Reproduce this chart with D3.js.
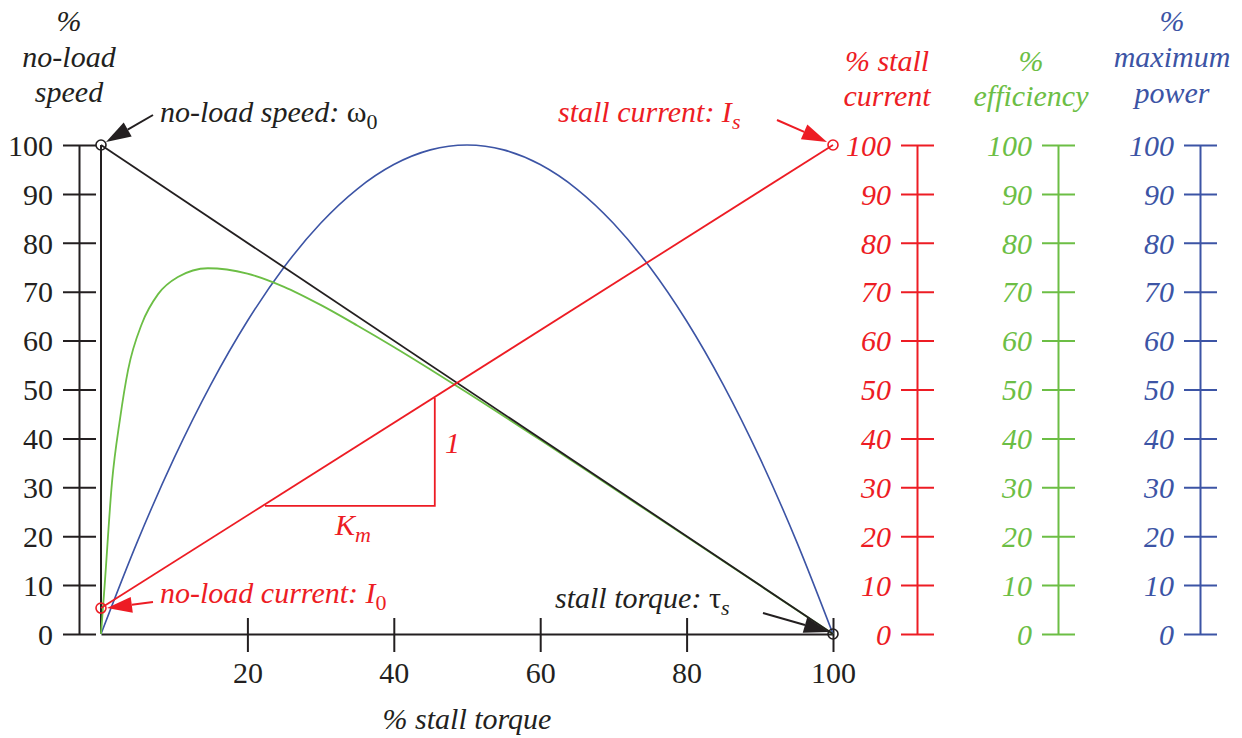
<!DOCTYPE html>
<html><head><meta charset="utf-8">
<script src="https://cdn.jsdelivr.net/npm/d3@7"></script>
<style>
body{margin:0;background:#fff;}
</style></head>
<body><svg id="c" width="1242" height="738" font-family="Liberation Serif"></svg>
<script>
// ---- data ----
const yTicks = [0,10,20,30,40,50,60,70,80,90,100];
const xTicks = [20,40,60,80,100];
const speedLine = [[0,100],[100,0]];            // % no-load speed vs % stall torque
const currentLine = [[0,5.3],[100,100]];        // % stall current
const efficiencyPts = [[0,0],[0.5,10],[1.5,31],[2.6,44],[3.7,54],[5.6,63.5],[7.8,69.5],[10.5,73],[14.6,74.8],[20,73.7],[25,71],[30,67.3],[35,63.1],[40,58.7],[45,54.1],[50,49.4],[60,39.7],[70,29.8],[80,19.9],[90,9.95],[100,0]];
const powerPts = [[0,0],[5,19],[10,36],[15,51],[20,64],[25,75],[30,84],[35,91],[40,96],[45,99],[50,100],[55,99],[60,96],[65,91],[70,84],[75,75],[80,64],[85,51],[90,36],[95,19],[100,0]];
const kmTriangle = [[22.4,26.2],[45.6,26.2],[45.6,48.3]];

const RED="#ed1c24", GREEN="#6cbe45", BLUE="#3c54a5", BLACK="#231f20";
const FS=30;
const FONT="Liberation Serif";

const svg=d3.select("#c");
const x=d3.scaleLinear().domain([0,100]).range([101,833]);
const y=d3.scaleLinear().domain([0,100]).range([634,145]);

function vAxis(xpos,color,italic){
  const g=svg.append("g").attr("transform",`translate(${xpos},0)`)
    .call(d3.axisLeft(y).tickValues(yTicks).tickSize(16).tickSizeOuter(0).tickPadding(10));
  g.attr("font-family",FONT);
  g.select(".domain").attr("stroke",color).attr("stroke-width",2);
  g.selectAll(".tick line").attr("stroke",color).attr("stroke-width",2).attr("x1",17);
  g.selectAll(".tick text").attr("fill",color).attr("font-size",FS)
    .attr("font-style",italic?"italic":"normal").attr("dy","0.34em");
  return g;
}
vAxis(79,BLACK,false);
vAxis(917,RED,true);
vAxis(1058,GREEN,true);
vAxis(1200,BLUE,true);

const gx=svg.append("g").attr("transform",`translate(0,${y(0)})`)
  .call(d3.axisBottom(x).tickValues(xTicks).tickSize(18).tickSizeOuter(0).tickPadding(10));
gx.attr("font-family",FONT);
gx.select(".domain").attr("stroke",BLACK).attr("stroke-width",2);
gx.selectAll(".tick line").attr("stroke",BLACK).attr("stroke-width",2).attr("y1",-16);
gx.selectAll(".tick text").attr("fill",BLACK).attr("font-size",FS).attr("y",28).attr("dy","0.71em");
svg.append("line").attr("x1",x(0)).attr("x2",x(0)).attr("y1",y(0)).attr("y2",y(100))
  .attr("stroke",BLACK).attr("stroke-width",2);

const line=d3.line().x(d=>x(d[0])).y(d=>y(d[1]));
const curve=d3.line().x(d=>x(d[0])).y(d=>y(d[1])).curve(d3.curveMonotoneX);
svg.append("path").attr("d",curve(powerPts)).attr("fill","none").attr("stroke",BLUE).attr("stroke-width",1.6);
svg.append("path").attr("d",curve(efficiencyPts)).attr("fill","none").attr("stroke",GREEN).attr("stroke-width",1.8);
svg.append("path").attr("d",line(speedLine)).attr("fill","none").attr("stroke",BLACK).attr("stroke-width",1.8);
svg.append("path").attr("d",line(currentLine)).attr("fill","none").attr("stroke",RED).attr("stroke-width",1.8);
svg.append("path").attr("d",line(kmTriangle)).attr("fill","none").attr("stroke",RED).attr("stroke-width",1.8);

function circ(px,py,color){
  svg.append("circle").attr("cx",px).attr("cy",py).attr("r",5).attr("fill","none").attr("stroke",color).attr("stroke-width",1.6);
}
circ(x(speedLine[0][0]),y(speedLine[0][1]),BLACK);
circ(x(speedLine[1][0]),y(speedLine[1][1]),BLACK);
circ(x(currentLine[0][0]),y(currentLine[0][1]),RED);
circ(x(currentLine[1][0]),y(currentLine[1][1]),RED);

function arrow(x1,y1,x2,y2,color){
  const dx=x2-x1, dy=y2-y1, len=Math.hypot(dx,dy), ux=dx/len, uy=dy/len;
  const L=25,W=8;
  const bx=x2-ux*L, by=y2-uy*L;
  svg.append("line").attr("x1",x1).attr("y1",y1).attr("x2",bx).attr("y2",by).attr("stroke",color).attr("stroke-width",2);
  svg.append("polygon").attr("points",[[x2,y2],[bx-uy*W,by+ux*W],[bx+uy*W,by-ux*W]].map(p=>p.join(",")).join(" ")).attr("fill",color);
}
const p0=[x(0),y(100)], pS=[x(100),y(0)], pI0=[x(0),y(currentLine[0][1])], pIs=[x(100),y(100)];
arrow(p0[0]+52,p0[1]-30,p0[0]+5,p0[1]-3,BLACK);
arrow(pIs[0]-56,pIs[1]-25,pIs[0]-6,pIs[1]-3,RED);
arrow(pI0[0]+52,pI0[1]-6,pI0[0]+6,pI0[1],RED);
arrow(pS[0]-70,pS[1]-21,pS[0]-4,pS[1]-2,BLACK);

function label(tx,ty,color,parts,anchor){
  const t=svg.append("text").attr("x",tx).attr("y",ty).attr("fill",color).attr("font-size",FS)
    .attr("text-anchor",anchor||"start");
  parts.forEach(p=>{
    const s=t.append("tspan").text(p.t).attr("font-style",p.i===false?"normal":"italic");
    if(p.sub){s.attr("font-size",22).attr("dy",7);}
  });
  return t;
}
label(160,122,BLACK,[{t:"no-load speed: "},{t:"ω",i:false},{t:"0",i:false,sub:true}]);
label(558,122,RED,[{t:"stall current: I"},{t:"s",sub:true}]);
label(160,603,RED,[{t:"no-load current: I"},{t:"0",i:false,sub:true}]);
label(555,608,BLACK,[{t:"stall torque: "},{t:"τ",i:false},{t:"s",sub:true}]);
label(445,453,RED,[{t:"1"}]);
label(335,535,RED,[{t:"K"},{t:"m",sub:true}]);

function title(cx,lines,baselines,color){
  lines.forEach((s,i)=>svg.append("text").attr("x",cx).attr("y",baselines[i]).attr("fill",color)
    .attr("font-size",FS).attr("font-style","italic").attr("text-anchor","middle").text(s));
}
title(69,["%","no-load","speed"],[31,67,102],BLACK);
title(887,["% stall","current"],[71,106],RED);
title(1031,["%","efficiency"],[71,106],GREEN);
title(1172,["%","maximum","power"],[31,67,103],BLUE);
svg.append("text").attr("x",x(50)).attr("y",729).attr("font-size",FS).attr("font-style","italic")
  .attr("text-anchor","middle").attr("fill",BLACK).text("% stall torque");

svg.selectAll("text").attr("font-family",FONT).style("font-family","'Liberation Serif', serif");
</script></body></html>
